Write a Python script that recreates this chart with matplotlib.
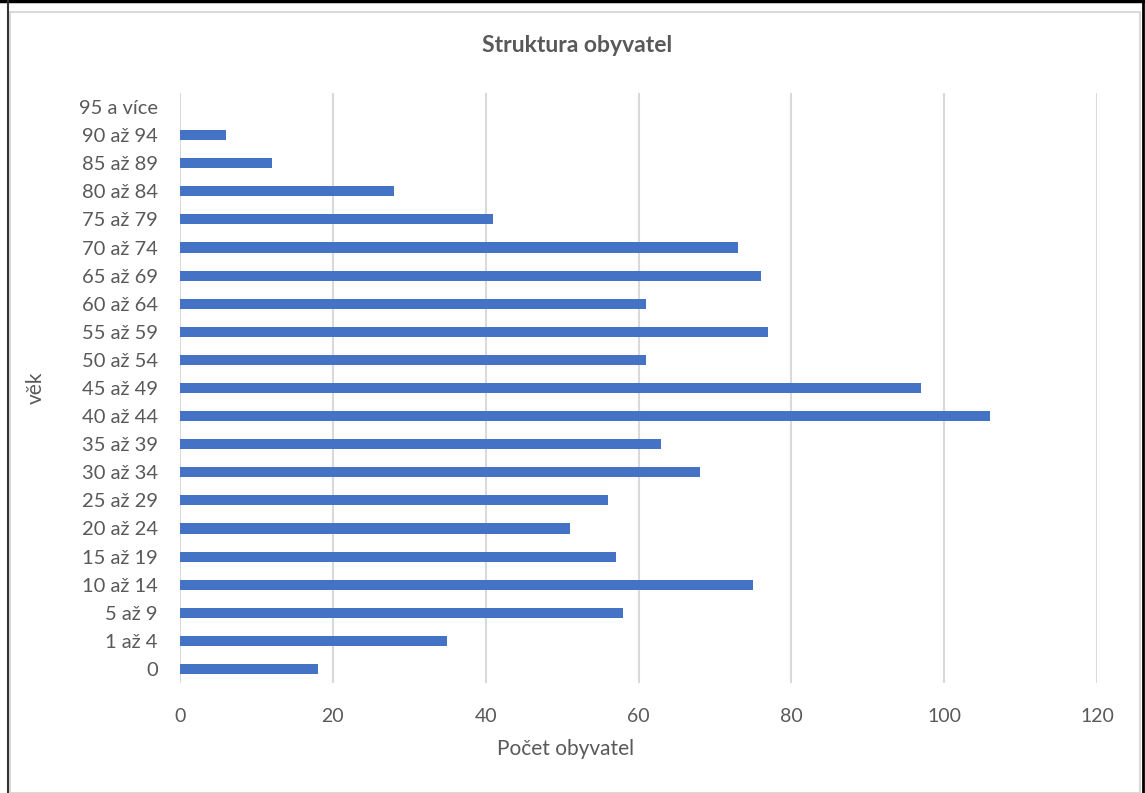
import matplotlib
matplotlib.use("Agg")
import matplotlib.pyplot as plt
from matplotlib.lines import Line2D
from matplotlib.patches import Rectangle

plt.rcParams['font.family'] = ['Lato', 'DejaVu Sans']

# age groups, bottom to top
age_groups = ['0', '1 až 4', '5 až 9', '10 až 14', '15 až 19', '20 až 24',
              '25 až 29', '30 až 34', '35 až 39', '40 až 44', '45 až 49',
              '50 až 54', '55 až 59', '60 až 64', '65 až 69', '70 až 74',
              '75 až 79', '80 až 84', '85 až 89', '90 až 94', '95 a více']
counts = [18, 35, 58, 75, 57, 51, 56, 68, 63, 106, 97,
          61, 77, 61, 76, 73, 41, 28, 12, 6, 0]
x_ticks = [0, 20, 40, 60, 80, 100, 120]

text_color = '#595959'
grid_color = '#d9d9d9'
bar_color = '#4472C4'

W, H = 1145, 793
fig = plt.figure(figsize=(W / 100, H / 100), dpi=100)

# outer frame / chart area border
fig.add_artist(Rectangle((10 / W, 0), 1130 / W, 1 - 12 / H, transform=fig.transFigure,
                         fill=False, edgecolor=grid_color, linewidth=1.5))
fig.add_artist(Line2D([0, 1], [1 - 1 / H, 1 - 1 / H], transform=fig.transFigure,
                      color='black', linewidth=2.5))
fig.add_artist(Line2D([8 / W, 8 / W], [0, 1], transform=fig.transFigure,
                      color='#333333', linewidth=1.5))
fig.add_artist(Line2D([1143 / W, 1143 / W], [0, 1], transform=fig.transFigure,
                      color='black', linewidth=2))

ax = fig.add_axes([180 / W, 1 - 683 / H, 917 / W, 590 / H])

pos = list(range(len(age_groups)))
ax.barh(pos, counts, height=0.36, color=bar_color, zorder=3)

ax.set_xlim(0, 120)
ax.set_ylim(-0.5, len(age_groups) - 0.5)
ax.set_xticks(x_ticks)
ax.set_yticks(pos)
ax.set_yticklabels(age_groups)
ax.grid(axis='x', color=grid_color, linewidth=1.5, zorder=0)
ax.grid(axis='y', visible=False)

for s in ax.spines.values():
    s.set_visible(False)
ax.tick_params(axis='both', length=0, labelsize=14, colors=text_color)
ax.tick_params(axis='y', labelsize=14.5, pad=16)
ax.tick_params(axis='x', pad=18)

ax.set_xlabel('Počet obyvatel', fontsize=15, color=text_color, labelpad=10)
ax.xaxis.set_label_coords(0.42, -0.095)
ax.set_ylabel('věk', fontsize=15, color=text_color)
ax.yaxis.set_label_coords(-0.146, 0.5)

fig.text(577 / W, 1 - 46 / H, 'Struktura obyvatel', ha='center', va='center',
         fontsize=16.5, fontweight='bold', color=text_color)

fig.savefig('out.png', dpi=100)
